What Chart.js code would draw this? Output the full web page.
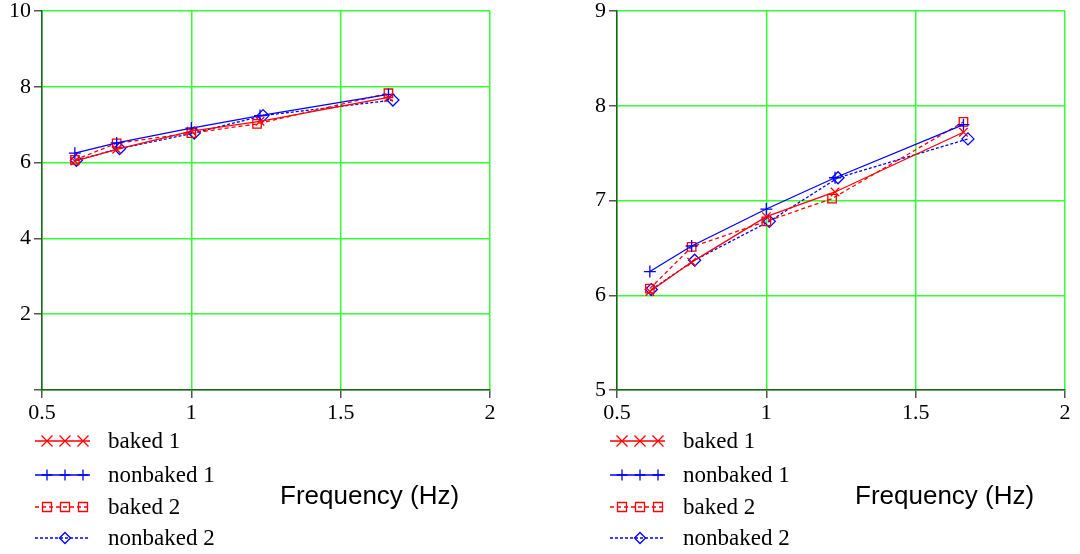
<!DOCTYPE html>
<html>
<head>
<meta charset="utf-8">
<script src="https://cdn.jsdelivr.net/npm/chart.js@4/dist/chart.umd.min.js"></script>
<style>
  body { margin: 0; background: #fff; }
  .panel { position: absolute; top: 0; width: 540px; height: 554px; }
</style>
</head>
<body>
<div class="panel" style="left:0"><canvas id="leftChart" width="540" height="554"></canvas></div>
<div class="panel" style="left:540px"><canvas id="rightChart" width="540" height="554"></canvas></div>
<script>
// Data
const seriesNames = ['baked 1', 'nonbaked 1', 'baked 2', 'nonbaked 2'];
const baked1X = [0.61, 0.75, 1.0, 1.23, 1.66];
const baked1Y = [6.04, 6.35, 6.83, 7.09, 7.72];
const nonbaked1X = [0.61, 0.75, 1.0, 1.23, 1.66];
const nonbaked1Y = [6.25, 6.52, 6.91, 7.24, 7.80];
const baked2X = [0.61, 0.75, 1.0, 1.22, 1.66];
const baked2Y = [6.07, 6.51, 6.78, 7.02, 7.83];
const nonbaked2X = [0.615, 0.76, 1.01, 1.24, 1.675];
const nonbaked2Y = [6.06, 6.37, 6.78, 7.24, 7.65];
const xTicks = [0.5, 1, 1.5, 2];
const leftYRange = [0, 10, 2];
const rightYRange = [5, 9, 1];
const xTitle = 'Frequency (Hz)';

const RED = '#ff0000';
const BLUE = '#0000ff';
const GRID = '#33ff33';
const AXIS = '#1f5f1f';
const SERIF = "'Liberation Serif', 'Times New Roman', serif";

const styles = [
    { color: RED, mark: 'x', dash: [], r: 6, markers: 3 },
    { color: BLUE, mark: '+', dash: [], r: 6, markers: 3 },
    { color: RED, mark: 'sq', dash: [4, 3], r: 6, markers: 3 },
    { color: BLUE, mark: 'dia', dash: [3, 2], r: 6, markers: 1 }
];

function toPoints(xs, ys) {
    return xs.map((x, i) => ({ x: x, y: ys[i] }));
}

// draw one marker shape
function drawMark(ctx, mark, x, y, r) {
    ctx.beginPath();
    if (mark === 'x') {
        ctx.moveTo(x - r, y - r); ctx.lineTo(x + r, y + r);
        ctx.moveTo(x + r, y - r); ctx.lineTo(x - r, y + r);
    } else if (mark === '+') {
        ctx.moveTo(x - r, y); ctx.lineTo(x + r, y);
        ctx.moveTo(x, y - r); ctx.lineTo(x, y + r);
    } else if (mark === 'sq') {
        ctx.rect(x - r, y - r, 2 * r, 2 * r);
    } else {
        ctx.moveTo(x, y - r); ctx.lineTo(x + r, y); ctx.lineTo(x, y + r); ctx.lineTo(x - r, y); ctx.closePath();
    }
    ctx.stroke();
}

const pointStyleMap = { 'x': 'crossRot', '+': 'cross', 'sq': 'rect', 'dia': 'rectRot' };

// legend and x title drawn under the plot
const bottomText = {
    id: 'bottomText',
    afterDraw(chart) {
        const ctx = chart.ctx;
        const left = chart.chartArea.left;
        const rows = [441, 475, 507, 538];
        ctx.save();
        styles.forEach((s, i) => {
            const y = rows[i];
            ctx.strokeStyle = s.color;
            ctx.lineWidth = 1.3;
            ctx.setLineDash(s.dash);
            ctx.beginPath();
            ctx.moveTo(left - 7, y);
            ctx.lineTo(left + 48, y);
            ctx.stroke();
            ctx.setLineDash([]);
            const xs = s.markers === 3 ? [left + 5, left + 23, left + 41] : [left + 23];
            xs.forEach(mx => drawMark(ctx, s.mark, mx, y, s.mark === 'sq' ? 4.5 : 5.5));
            ctx.fillStyle = '#000';
            ctx.font = '23px ' + SERIF;
            ctx.textBaseline = 'middle';
            ctx.fillText(seriesNames[i], left + 66, y + 1);
        });
        ctx.font = "26px 'Liberation Sans', Arial, sans-serif";
        ctx.textBaseline = 'middle';
        ctx.fillText(xTitle, left + 238, 497);
        ctx.restore();
    }
};

function makeChart(id, yRange, padLeft, padRight) {
    const xs = [baked1X, nonbaked1X, baked2X, nonbaked2X];
    const ys = [baked1Y, nonbaked1Y, baked2Y, nonbaked2Y];
    const datasets = styles.map((s, i) => ({
        label: seriesNames[i],
        data: toPoints(xs[i], ys[i]),
        showLine: true,
        borderColor: s.color,
        borderWidth: 1.3,
        borderDash: s.dash,
        backgroundColor: 'rgba(0,0,0,0)',
        pointStyle: pointStyleMap[s.mark],
        pointRadius: s.r,
        pointBorderColor: s.color,
        pointBorderWidth: 1.3,
        pointBackgroundColor: 'rgba(0,0,0,0)',
        tension: 0
    }));

    new Chart(document.getElementById(id), {
        type: 'scatter',
        data: { datasets: datasets },
        options: {
            responsive: false,
            animation: false,
            layout: {
                autoPadding: false,
                padding: { left: padLeft, right: padRight, top: 11, bottom: 134 }
            },
            plugins: {
                legend: { display: false },
                tooltip: { enabled: false }
            },
            scales: {
                x: {
                    type: 'linear',
                    min: xTicks[0],
                    max: xTicks[xTicks.length - 1],
                    afterBuildTicks: (axis) => { axis.ticks = xTicks.map(v => ({ value: v })); },
                    afterFit: (axis) => { axis.height = 30; axis.paddingLeft = 0; axis.paddingRight = 0; },
                    grid: { color: GRID, lineWidth: 1.5, tickColor: '#555', tickLength: 8 },
                    border: { color: AXIS, width: 1.5 },
                    ticks: {
                        color: '#000',
                        font: { family: SERIF, size: 22 },
                        padding: 2,
                        maxRotation: 0,
                        callback: (v) => String(v)
                    }
                },
                y: {
                    type: 'linear',
                    min: yRange[0],
                    max: yRange[1],
                    afterFit: (axis) => { axis.width = 42; axis.paddingTop = 0; axis.paddingBottom = 0; },
                    grid: { color: GRID, lineWidth: 1.5, tickColor: '#555', tickLength: 8 },
                    border: { color: AXIS, width: 1.5 },
                    ticks: {
                        stepSize: yRange[2],
                        color: '#000',
                        font: { family: SERIF, size: 22 },
                        padding: 3,
                        callback: (v) => (v === 0 ? '' : String(v))
                    }
                }
            }
        },
        plugins: [bottomText]
    });
}

makeChart('leftChart', leftYRange, 0, 50);
makeChart('rightChart', rightYRange, 35, 15);
</script>
</body>
</html>
